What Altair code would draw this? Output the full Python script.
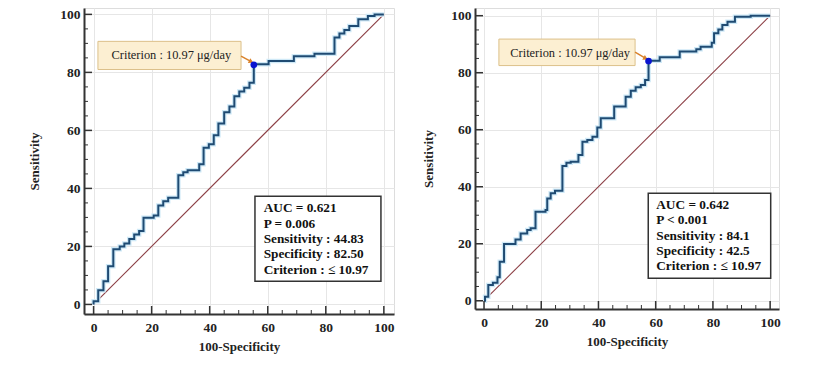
import altair as alt
import pandas as pd

FONT = "Liberation Serif"

# ---- data ----
left_fpr = [0, 0, 1.6, 3.4, 5.0, 6.8, 9.0, 10.6, 12.3, 14.0, 15.7, 17.2, 20.7, 22.3, 24.0, 25.7, 29.2, 30.9,
            32.4, 36.4, 37.9, 39.7, 41.4, 43.0, 45.0, 46.8, 48.5, 50.2, 51.9, 53.7, 55.2, 60.3, 69.0, 76.1,
            83.0, 84.7, 86.4, 88.1, 91.2, 94.5, 96.8, 100]
left_tpr = [0, 1.1, 4.9, 8.0, 13.2, 19.0, 20.0, 21.0, 22.6, 24.1, 25.3, 29.9, 30.7, 34.1, 35.6, 36.8, 44.5, 45.6,
            46.3, 48.3, 54.0, 55.2, 58.3, 62.4, 66.3, 68.2, 71.8, 73.4, 74.7, 76.4, 82.8, 83.9, 85.6, 86.4,
            92.0, 93.4, 94.6, 96.0, 98.3, 99.4, 100, 100]

right_fpr = [0, 0.35, 1.5, 3.1, 4.7, 5.5, 7.0, 11.0, 12.8, 15.1, 16.3, 18.0, 21.5, 22.1, 23.3, 24.8, 27.4, 28.8,
             30.3, 33.0, 34.4, 36.1, 37.9, 39.6, 40.8, 45.5, 49.5, 51.3, 53.0, 54.8, 56.3, 57.5, 61.4, 68.4,
             74.2, 75.7, 79.6, 80.4, 81.9, 83.3, 85.1, 87.7, 93.2, 100]
right_tpr = [0, 1.4, 5.5, 6.3, 8.2, 13.7, 19.9, 21.5, 23.6, 24.8, 25.4, 31.2, 31.8, 35.9, 37.7, 38.6, 47.3, 48.4,
             48.8, 51.1, 55.8, 56.4, 57.5, 60.8, 64.0, 68.1, 71.6, 73.7, 74.9, 75.7, 77.4, 84.2, 85.4, 87.4,
             88.2, 89.1, 90.5, 93.8, 95.2, 96.7, 97.9, 99.6, 100, 100]

left_point = (55.2, 82.6)
right_point = (57.5, 84.1)

criterion_label = "Criterion : 10.97 \u03bcg/day"
left_stats = ["AUC = 0.621", "P = 0.006", "Sensitivity : 44.83", "Specificity : 82.50", "Criterion : \u2264 10.97"]
right_stats = ["AUC = 0.642", "P < 0.001", "Sensitivity : 84.1", "Specificity : 42.5", "Criterion : \u2264 10.97"]

major_ticks = [0, 20, 40, 60, 80, 100]
minor_ticks = [5, 10, 15, 25, 30, 35, 45, 50, 55, 65, 70, 75, 85, 90, 95]
diag = [0, 100]


def panel(fpr, tpr, pt, stats, crit_box, crit_pos, arrow, stats_box, stats_pos,
          xdom, ydom, w, h, ytp):
    xs = alt.Scale(domain=xdom, nice=False, zero=False)
    ys = alt.Scale(domain=ydom, nice=False, zero=False)
    xax = alt.Axis(values=major_ticks, title="100-Specificity", ticks=False, grid=True,
                   gridColor="#e6e6e6", domainColor="#333333", domainWidth=2,
                   labelFont=FONT, labelFontSize=13.5, labelFontWeight="bold", labelColor="#222",
                   labelPadding=6, titleFont=FONT, titleFontSize=13, titleFontWeight="bold",
                   titleColor="#222", titlePadding=7, labelFlush=False)
    yax = alt.Axis(values=major_ticks, title="Sensitivity", ticks=False, grid=True,
                   gridColor="#e6e6e6", domainColor="#333333", domainWidth=2,
                   labelFont=FONT, labelFontSize=13.5, labelFontWeight="bold", labelColor="#222",
                   labelPadding=4, titleFont=FONT, titleFontSize=13, titleFontWeight="bold",
                   titleColor="#222", titlePadding=ytp, labelFlush=False)

    def X(f):
        return alt.X(f, type="quantitative", scale=xs, axis=xax)

    def Y(f):
        return alt.Y(f, type="quantitative", scale=ys, axis=yax)

    curve = pd.DataFrame({"x": fpr, "y": tpr, "i": list(range(len(fpr)))})
    diag_df = pd.DataFrame({"x": diag, "y": diag, "i": [0, 1]})

    diag_line = alt.Chart(diag_df).mark_line(color="#8c3f45", strokeWidth=1.1).encode(
        x=X("x"), y=Y("y"), order="i:Q")
    halo = alt.Chart(curve).mark_line(color="#cfe9f7", strokeWidth=4.5, interpolate="step-after").encode(
        x=X("x"), y=Y("y"), order="i:Q")
    line = alt.Chart(curve).mark_line(color="#1f4b73", strokeWidth=2, interpolate="step-after").encode(
        x=X("x"), y=Y("y"), order="i:Q")

    xmaj = alt.Chart(pd.DataFrame({"v": major_ticks})).mark_rule(color="#333", strokeWidth=1.5).encode(
        x=X("v"), y=alt.value(h), y2=alt.value(h - 8))
    xmin = alt.Chart(pd.DataFrame({"v": minor_ticks})).mark_rule(color="#333", strokeWidth=1).encode(
        x=X("v"), y=alt.value(h), y2=alt.value(h - 4))
    ymaj = alt.Chart(pd.DataFrame({"v": major_ticks})).mark_rule(color="#333", strokeWidth=1.5).encode(
        y=Y("v"), x=alt.value(0), x2=alt.value(8))
    ymin = alt.Chart(pd.DataFrame({"v": minor_ticks})).mark_rule(color="#333", strokeWidth=1).encode(
        y=Y("v"), x=alt.value(0), x2=alt.value(4))

    cb = pd.DataFrame({"x": [crit_box[0]], "x2": [crit_box[1]], "y": [crit_box[2]], "y2": [crit_box[3]]})
    crit_rect = alt.Chart(cb).mark_rect(fill="#fcefd2", stroke="#dcc08a", strokeWidth=1).encode(
        x=X("x"), x2="x2", y=Y("y"), y2="y2")
    ct = pd.DataFrame({"x": [crit_pos[0]], "y": [crit_pos[1]], "t": [criterion_label]})
    crit_text = alt.Chart(ct).mark_text(align="left", baseline="middle", font=FONT, fontSize=12.4,
                                        color="#222").encode(x=X("x"), y=Y("y"), text="t")
    ar = pd.DataFrame({"x": [arrow[0]], "y": [arrow[1]], "x2": [arrow[2]], "y2": [arrow[3]]})
    arrow_line = alt.Chart(ar).mark_rule(color="#d9822b", strokeWidth=1.5).encode(
        x=X("x"), y=Y("y"), x2="x2", y2="y2")
    arrow_head = alt.Chart(ar).mark_point(shape="triangle-right", filled=True, color="#d9822b",
                                          size=30, angle=28, opacity=1).encode(x=X("x2"), y=Y("y2"))

    pdf = pd.DataFrame({"x": [pt[0]], "y": [pt[1]]})
    point = alt.Chart(pdf).mark_point(filled=True, color="#0a14d0", size=45, opacity=1).encode(
        x=X("x"), y=Y("y"))

    sb = pd.DataFrame({"x": [stats_box[0]], "x2": [stats_box[1]], "y": [stats_box[2]], "y2": [stats_box[3]]})
    stats_rect = alt.Chart(sb).mark_rect(fill="white", stroke="#333333", strokeWidth=1.5).encode(
        x=X("x"), x2="x2", y=Y("y"), y2="y2")
    st = pd.DataFrame({"x": [stats_pos[0]], "y": [stats_pos[1]], "t": ["\n".join(stats)]})
    stats_text = alt.Chart(st).mark_text(align="left", baseline="middle", font=FONT, fontSize=13.3,
                                         fontWeight="bold", color="#111", lineBreak="\n",
                                         lineHeight=15.3).encode(x=X("x"), y=Y("y"), text="t")

    return alt.layer(diag_line, halo, line, xmaj, xmin, ymaj, ymin, crit_rect, crit_text,
                     arrow_line, arrow_head, point, stats_rect, stats_text).properties(width=w, height=h)


left = panel(left_fpr, left_tpr, left_point, left_stats,
             crit_box=(1.5, 50.8, 90.7, 81.0), crit_pos=(6.2, 85.9),
             arrow=(50.8, 85.6, 54.3, 83.7),
             stats_box=(55.6, 99.0, 37.3, 8.0), stats_pos=(58.6, 33.1),
             xdom=[-3.3, 103.5], ydom=[-3.3, 102.2], w=310, h=306, ytp=18.5)
right = panel(right_fpr, right_tpr, right_point, right_stats,
              crit_box=(5.2, 52.8, 91.8, 82.5), crit_pos=(9.2, 87.0),
              arrow=(52.8, 87.2, 56.5, 85.0),
              stats_box=(57.4, 100.2, 37.7, 7.9), stats_pos=(60.2, 33.6),
              xdom=[-3.15, 103.1], ydom=[-2.9, 102.7], w=304, h=301, ytp=15)

chart = alt.hconcat(left, right, spacing=27).properties(
    padding={"left": 19, "top": -4, "right": 5, "bottom": 5}
).configure_view(stroke=None).configure(background="white")

chart.save("out.html", embed_options={"renderer": "svg", "actions": False})
